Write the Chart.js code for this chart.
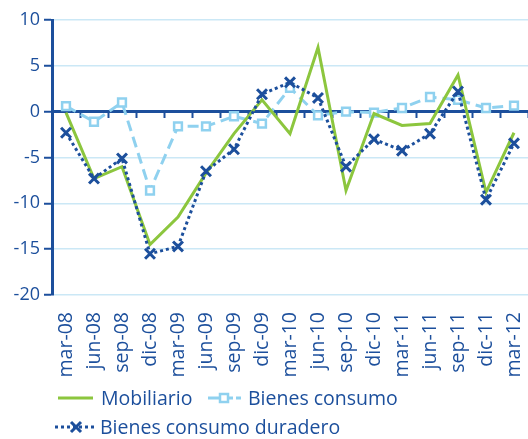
<!doctype html>
<html lang="es">
  <head>
    <meta charset="utf-8">
    <title>Mobiliario y bienes de consumo</title>
    <style>
      * {
        margin: 0;
        padding: 0;
      }
      body {
        background: #fff;
        font-family: "Open Sans", sans-serif;
      }
      .chartBox {
        position: relative;
        width: 528px;
        height: 439px;
      }
      .legendItem {
        position: absolute;
        height: 22px;
        line-height: 22px;
        font-size: 19.5px;
        color: #1c4f9c;
        white-space: nowrap;
      }
      .legendItem svg {
        position: absolute;
        top: 1px;
      }
    </style>
  </head>
  <body>
    <div class="chartBox">
      <canvas id="myChart"></canvas>
      <div class="legendItem" style="left:56px; top:387px;">
        <svg width="40" height="20" style="left:0"><line x1="2" y1="10" x2="37" y2="10" stroke="#8cc63e" stroke-width="3"/></svg>
        <span style="position:absolute; left:45px;">Mobiliario</span>
      </div>
      <div class="legendItem" style="left:206px; top:387px;">
        <svg width="40" height="20" style="left:0"><line x1="2" y1="10" x2="35" y2="10" stroke="#8fd1ef" stroke-width="3" stroke-dasharray="11 3"/><rect x="14" y="6" width="8" height="8" fill="#fff" stroke="#8fd1ef" stroke-width="2.5"/></svg>
        <span style="position:absolute; left:42px;">Bienes consumo</span>
      </div>
      <div class="legendItem" style="left:53px; top:416px;">
        <svg width="44" height="20" style="left:0"><line x1="2" y1="10" x2="41" y2="10" stroke="#1c4f9c" stroke-width="3" stroke-dasharray="3 3"/><path d="M18 5 L28 15 M28 5 L18 15" stroke="#1c4f9c" stroke-width="3"/></svg>
        <span style="position:absolute; left:47px;">Bienes consumo duradero</span>
      </div>
    </div>
    <script type="text/javascript" src="https://cdn.jsdelivr.net/npm/chart.js/dist/chart.umd.min.js"></script>
    <script>
    const quarters = ['mar-08', 'jun-08', 'sep-08', 'dic-08', 'mar-09', 'jun-09', 'sep-09', 'dic-09',
      'mar-10', 'jun-10', 'sep-10', 'dic-10', 'mar-11', 'jun-11', 'sep-11', 'dic-11', 'mar-12'];
    const mobiliario = [-0.1, -7.3, -6.0, -14.5, -11.5, -6.7, -2.4, 1.3, -2.4, 7.0, -8.6, -0.2, -1.5, -1.3, 4.0, -8.8, -2.3];
    const bienesConsumo = [0.6, -1.1, 1.0, -8.6, -1.6, -1.6, -0.5, -1.3, 2.6, -0.4, 0.0, -0.1, 0.4, 1.6, 1.3, 0.4, 0.65];
    const bienesDuradero = [-2.3, -7.3, -5.1, -15.5, -14.7, -6.5, -4.1, 1.9, 3.2, 1.5, -6.0, -3.0, -4.25, -2.4, 2.2, -9.6, -3.45];
    const yTicks = [10, 5, 0, -5, -10, -15, -20];

    const darkBlue = '#1c4f9c';
    const green = '#8cc63e';
    const lightBlue = '#8fd1ef';
    const gridBlue = '#cbe8f6';

    const data = {
      labels: quarters,
      datasets: [{
        label: 'Mobiliario',
        data: mobiliario,
        borderColor: green,
        borderWidth: 3,
        pointRadius: 0,
        order: 2
      }, {
        label: 'Bienes consumo',
        data: bienesConsumo,
        borderColor: lightBlue,
        borderWidth: 3,
        borderDash: [11, 6],
        pointStyle: 'rect',
        pointRadius: 5.5,
        pointBackgroundColor: '#fff',
        pointBorderColor: lightBlue,
        pointBorderWidth: 2.5,
        order: 3
      }, {
        label: 'Bienes consumo duradero',
        data: bienesDuradero,
        borderColor: darkBlue,
        borderWidth: 3,
        borderDash: [3, 3],
        pointStyle: 'crossRot',
        pointRadius: 7,
        pointBorderColor: darkBlue,
        pointBorderWidth: 3,
        order: 1
      }]
    };

    const config = {
      type: 'line',
      data,
      options: {
        responsive: true,
        maintainAspectRatio: false,
        animation: false,
        layout: { autoPadding: false, padding: { top: 20, left: 0, right: -3, bottom: 0 } },
        plugins: {
          legend: { display: false },
          tooltip: { enabled: false }
        },
        scales: {
          x: {
            offset: true,
            grid: { display: false },
            border: { display: false },
            ticks: {
              color: darkBlue,
              font: { family: 'Open Sans', size: 19.5 },
              minRotation: 90,
              maxRotation: 90,
              autoSkip: false,
              padding: 9
            },
            afterFit: (scale) => {
              scale.height = 144;
              scale.paddingLeft = 0;
              scale.paddingRight = 0;
            }
          },
          x2: {
            type: 'category',
            position: { y: 0 },
            offset: true,
            grid: {
              offset: true,
              drawOnChartArea: false,
              drawTicks: true,
              tickLength: 5,
              tickColor: darkBlue,
              tickWidth: 2
            },
            border: { color: darkBlue, width: 3 },
            ticks: { display: false }
          },
          y: {
            min: -20,
            max: 10,
            afterBuildTicks: (scale) => {
              scale.ticks = yTicks.map(v => ({ value: v }));
            },
            grid: {
              color: gridBlue,
              lineWidth: 1.5,
              tickColor: darkBlue,
              tickWidth: 2,
              tickLength: 8
            },
            border: { color: darkBlue, width: 3 },
            ticks: {
              color: darkBlue,
              font: { family: 'Open Sans', size: 18 },
              padding: 4
            },
            afterFit: (scale) => { scale.width = 52; }
          }
        }
      }
    };

    new Chart(document.getElementById('myChart'), config);
    </script>
  </body>
</html>
